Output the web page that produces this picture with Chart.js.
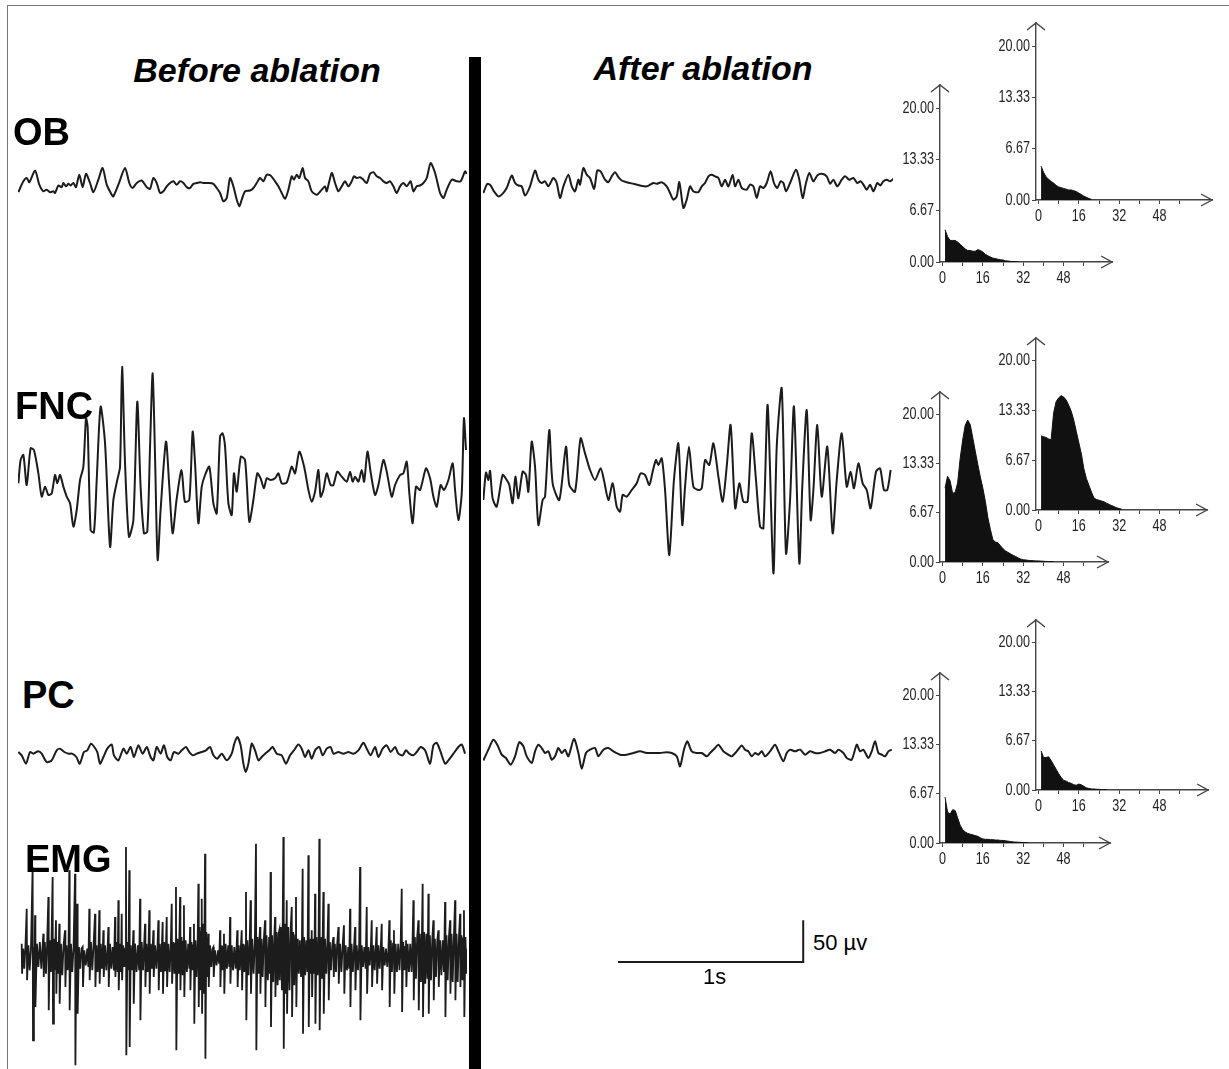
<!DOCTYPE html>
<html>
<head>
<meta charset="utf-8">
<script src="https://cdn.jsdelivr.net/npm/chart.js@4.4.1/dist/chart.umd.min.js"></script>
<style>
  body { margin: 0; background: #fff; }
  #page { position: relative; width: 1229px; height: 1069px; overflow: hidden; background: #fff;
          font-family: 'Liberation Sans', Arial, sans-serif; }
  #frame { position: absolute; left: 7px; top: 5px; width: 1230px; height: 1070px;
           border-left: 1px solid #777; border-top: 1px solid #777; }
  #divider { position: absolute; left: 469px; top: 57px; width: 12px; height: 1012px; background: #000; }
  .lbl { position: absolute; font-weight: bold; color: #000; line-height: 1; white-space: nowrap; font-size: 38px; }
  .head { font-style: italic; font-size: 34px; transform: translateX(-50%); }
  .note { position: absolute; color: #000; line-height: 1; font-size: 22px; white-space: nowrap; }
  canvas { position: absolute; }
</style>
</head>
<body>
<div id="page">
  <div id="frame"></div>
  <div id="divider"></div>
</div>
<script>
// time in ms, amplitude in µV
const obBefore = [[2,-11],[29,2],[47,6],[61,1],[92,15],[115,-2],[137,-10],[155,-8],[173,-11],[191,-10],[200,-12],[218,-3],[236,-5],[245,0],[259,-4],[272,-1],[284,-3],[299,0],[313,-5],[331,10],[349,-5],[367,11],[389,0],[407,-11],[434,4],[457,18],[479,-2],[506,-14],[515,-16],[542,-2],[578,18],[601,0],[619,-6],[641,0],[668,3],[695,-5],[713,-7],[731,6],[749,0],[767,-12],[785,-10],[803,-4],[821,0],[839,2],[857,-2],[875,2],[893,0],[911,-5],[929,-6],[947,-1],[965,0],[983,1],[1001,0],[1028,0],[1055,-1],[1073,-6],[1091,-12],[1109,-22],[1127,-18],[1145,6],[1163,-4],[1181,-20],[1195,-28],[1208,-20],[1226,-10],[1253,-9],[1271,-6],[1289,0],[1307,6],[1325,2],[1343,10],[1364,9],[1388,2],[1406,-4],[1424,-12],[1442,-19],[1460,-8],[1478,8],[1490,4],[1505,10],[1519,6],[1537,18],[1550,6],[1568,2],[1586,-10],[1613,-14],[1640,-8],[1658,-4],[1667,-10],[1694,12],[1712,0],[1730,-10],[1748,-4],[1766,2],[1784,-4],[1802,2],[1814,8],[1829,6],[1847,7],[1865,4],[1883,0],[1901,11],[1919,13],[1937,8],[1955,6],[1973,2],[1991,0],[2009,2],[2027,-4],[2045,-12],[2063,-4],[2081,0],[2099,-4],[2120,2],[2135,-10],[2153,-4],[2171,-3],[2189,0],[2207,6],[2228,24],[2252,12],[2279,-12],[2297,-18],[2315,-8],[2342,4],[2369,2],[2390,2],[2414,14],[2423,11]];

const obAfter = [[2,-12],[23,-1],[41,-3],[59,-10],[83,-16],[101,-14],[128,-6],[155,9],[173,0],[191,-3],[209,-4],[227,-15],[254,-4],[281,15],[299,4],[317,0],[335,2],[353,-4],[380,6],[398,0],[416,-18],[434,-4],[461,10],[479,-4],[497,-10],[515,4],[524,-2],[542,18],[560,10],[578,6],[600,-7],[617,15],[635,14],[659,4],[677,1],[695,8],[713,13],[731,7],[749,3],[776,1],[812,-1],[848,-3],[884,-4],[920,0],[938,-1],[965,1],[992,-4],[1010,-12],[1028,-20],[1046,-16],[1060,1],[1082,-30],[1100,-20],[1118,-4],[1136,-10],[1163,-11],[1181,-4],[1199,0],[1217,8],[1235,10],[1253,8],[1271,6],[1289,-4],[1307,4],[1325,-4],[1348,10],[1361,-4],[1379,4],[1397,-6],[1424,-8],[1442,-2],[1460,-4],[1478,-18],[1496,-4],[1514,-6],[1532,0],[1553,14],[1571,0],[1589,-6],[1607,2],[1622,0],[1636,-10],[1658,0],[1690,16],[1708,4],[1726,-18],[1744,0],[1762,12],[1784,2],[1805,9],[1829,11],[1856,8],[1874,-1],[1892,4],[1913,-4],[1937,4],[1955,8],[1978,4],[2000,6],[2021,0],[2039,2],[2054,-2],[2072,-8],[2090,-2],[2108,-10],[2129,0],[2145,-3],[2162,2],[2180,4],[2198,2],[2216,5]];

const fncBefore = [[2,-4],[14,24],[29,30],[47,-6],[68,38],[86,36],[110,8],[128,-20],[146,-8],[164,-18],[182,-16],[200,6],[212,-4],[227,6],[245,-8],[263,-20],[281,-28],[299,-56],[317,-36],[335,0],[353,16],[367,74],[376,64],[392,-60],[410,-63],[425,0],[446,88],[470,44],[497,-80],[515,-24],[536,0],[551,16],[562,136],[578,20],[599,-68],[623,-48],[644,94],[662,-8],[680,-64],[698,-62],[713,40],[727,128],[740,28],[754,-96],[770,-36],[799,46],[817,-8],[835,-64],[856,-24],[883,12],[901,-26],[925,-24],[943,58],[956,20],[974,-52],[992,-8],[1010,6],[1033,16],[1055,-28],[1073,-40],[1091,52],[1105,56],[1118,40],[1136,-28],[1154,-42],[1166,8],[1181,-14],[1203,28],[1226,24],[1249,-50],[1271,-24],[1292,8],[1310,2],[1328,-10],[1343,2],[1364,0],[1388,2],[1406,8],[1424,-4],[1451,-3],[1478,16],[1496,8],[1519,34],[1545,16],[1568,-12],[1586,-26],[1604,-14],[1622,12],[1634,-20],[1649,-12],[1667,8],[1688,-6],[1703,-6],[1724,10],[1748,4],[1775,-2],[1793,10],[1807,-2],[1820,4],[1838,-2],[1856,12],[1869,-2],[1887,34],[1905,8],[1928,-18],[1946,-6],[1973,24],[1991,10],[2018,-20],[2036,-6],[2063,6],[2081,8],[2099,22],[2113,-16],[2131,-52],[2149,-8],[2171,-12],[2203,14],[2225,2],[2243,-20],[2261,-32],[2282,-6],[2300,-12],[2324,0],[2347,20],[2360,-12],[2378,-48],[2396,-16],[2408,74],[2419,36]];

const fncAfter = [[2,-24],[16,9],[29,0],[38,11],[52,-22],[74,-32],[106,6],[128,0],[142,-6],[160,-28],[175,4],[191,-22],[214,10],[232,6],[245,-14],[263,46],[281,16],[299,-54],[322,-24],[335,-20],[358,60],[376,-4],[412,-24],[448,40],[466,-6],[497,-14],[527,50],[551,32],[578,12],[605,0],[635,14],[653,0],[677,-24],[700,-4],[722,-32],[740,-38],[754,-18],[776,-20],[803,-12],[830,-4],[851,8],[875,6],[898,-6],[916,10],[934,24],[947,18],[965,26],[983,-12],[1006,-90],[1031,0],[1055,44],[1076,-54],[1091,-8],[1112,40],[1136,-8],[1163,-12],[1181,-10],[1199,24],[1222,18],[1244,44],[1271,4],[1294,-26],[1316,16],[1337,66],[1362,-34],[1384,-4],[1406,-26],[1429,-26],[1451,56],[1474,0],[1496,-56],[1514,-58],[1537,90],[1568,-112],[1586,40],[1613,110],[1636,-88],[1658,-24],[1679,88],[1708,-100],[1724,-8],[1748,84],[1769,-48],[1784,-12],[1805,66],[1829,-20],[1859,40],[1888,-64],[1910,0],[1937,56],[1964,-8],[1985,10],[2003,-10],[2027,20],[2050,-4],[2072,-12],[2093,-34],[2122,10],[2144,14],[2165,-12],[2183,-12],[2201,12]];

const pcBefore = [[2,0],[20,-4],[43,-14],[65,0],[83,-2],[110,1],[128,-2],[155,-12],[182,-10],[209,2],[227,4],[250,0],[274,-2],[292,-2],[315,-6],[333,-14],[356,0],[374,2],[394,10],[412,6],[428,0],[443,-14],[461,-6],[482,4],[506,9],[518,-4],[542,-10],[569,4],[587,-2],[608,6],[626,-6],[650,8],[673,-2],[695,6],[716,-6],[731,-10],[749,6],[770,-2],[788,8],[806,-6],[824,-10],[842,0],[866,-2],[884,2],[907,6],[925,0],[943,-4],[965,-2],[992,0],[1015,2],[1037,6],[1055,-4],[1076,-8],[1100,-2],[1127,-10],[1154,-2],[1168,10],[1184,18],[1202,8],[1217,-14],[1229,-24],[1244,-14],[1262,10],[1280,2],[1298,-10],[1316,-6],[1334,-2],[1357,2],[1375,6],[1397,-2],[1424,-4],[1447,-14],[1469,-4],[1490,2],[1514,9],[1532,4],[1550,-6],[1568,2],[1586,-8],[1604,2],[1627,6],[1645,-4],[1667,4],[1688,6],[1703,-2],[1730,0],[1757,-2],[1784,0],[1811,-2],[1838,2],[1865,11],[1883,4],[1904,-4],[1928,6],[1946,-6],[1969,4],[1991,8],[2012,0],[2036,6],[2054,-2],[2077,-4],[2095,2],[2113,-2],[2135,-4],[2153,0],[2174,6],[2198,2],[2225,-14],[2243,8],[2261,11],[2279,2],[2306,-14],[2324,-10],[2351,-2],[2378,6],[2396,9],[2414,-2]];

const pcAfter = [[2,-9],[29,4],[56,16],[77,10],[101,-2],[124,-6],[149,-14],[173,-4],[196,13],[218,8],[236,-4],[263,-12],[281,2],[299,10],[317,6],[335,0],[353,2],[371,-8],[389,-4],[407,6],[425,0],[443,4],[461,-4],[491,17],[515,0],[533,-19],[556,0],[578,4],[605,6],[623,-4],[650,4],[677,6],[704,2],[740,-2],[776,-2],[812,0],[848,2],[884,0],[920,0],[956,0],[992,1],[1019,0],[1046,-4],[1064,-16],[1085,4],[1103,14],[1127,2],[1154,0],[1181,0],[1208,-4],[1226,0],[1253,6],[1271,10],[1298,2],[1325,-2],[1343,-4],[1370,2],[1397,9],[1415,4],[1433,2],[1451,-4],[1469,0],[1487,-2],[1505,2],[1523,-4],[1550,2],[1577,10],[1595,2],[1622,-10],[1640,0],[1658,4],[1685,2],[1712,4],[1739,-2],[1766,2],[1793,0],[1820,0],[1847,2],[1874,4],[1901,0],[1919,4],[1946,0],[1964,-6],[1991,-8],[2018,10],[2036,2],[2054,4],[2081,-6],[2099,2],[2117,14],[2135,0],[2153,-2],[2171,-4],[2189,2],[2207,4]];

const emgBefore = [[20,16],[22,-20],[28,10],[34,-14],[40,12],[47,58],[49,-28],[56,14],[63,-16],[70,10],[79,108],[81,-100],[86,12],[90,-10],[92,50],[94,-60],[102,16],[110,-12],[118,18],[126,-14],[132,10],[137,28],[139,-24],[145,18],[151,-20],[157,14],[164,72],[166,-64],[172,20],[178,-18],[187,96],[189,-80],[194,22],[199,-16],[205,44],[207,-44],[212,18],[217,-20],[223,40],[225,-56],[232,16],[239,-22],[246,14],[254,32],[256,-36],[262,14],[268,-16],[273,12],[277,104],[279,-64],[286,16],[293,-18],[300,12],[308,100],[310,-130],[315,14],[320,64],[322,-68],[329,12],[336,-14],[343,10],[349,12],[351,-36],[358,8],[366,-10],[374,10],[380,-12],[385,58],[387,-28],[394,18],[401,-16],[408,14],[416,52],[418,-36],[424,14],[430,-18],[435,12],[439,56],[441,-32],[447,16],[453,-14],[458,10],[461,32],[463,-24],[470,14],[477,-16],[484,12],[488,36],[490,-36],[497,16],[504,-14],[511,12],[518,-16],[524,48],[526,-24],[532,18],[538,-18],[542,68],[544,-40],[550,16],[556,-18],[560,52],[562,-28],[568,14],[574,-12],[579,10],[583,132],[585,-118],[591,18],[596,-16],[601,104],[603,-108],[609,14],[615,-16],[620,12],[623,32],[625,-56],[632,16],[640,-18],[647,14],[654,-16],[659,70],[661,-76],[668,18],[675,-16],[681,14],[686,40],[688,-36],[694,16],[700,-18],[705,14],[709,56],[711,-44],[717,16],[723,-14],[727,10],[731,32],[733,-24],[740,14],[747,-14],[753,12],[758,44],[760,-40],[766,16],[772,-18],[777,14],[781,42],[783,-44],[789,18],[795,-16],[799,14],[803,48],[805,-36],[812,16],[819,-18],[825,14],[830,64],[832,-32],[839,18],[845,-20],[849,16],[853,84],[855,-112],[861,22],[867,-20],[871,16],[875,72],[877,-40],[883,24],[889,-22],[893,18],[896,62],[898,-48],[905,20],[912,-18],[919,16],[925,-14],[929,36],[931,-40],[937,18],[943,-16],[947,14],[950,40],[952,-80],[958,20],[964,-24],[970,18],[974,88],[976,-60],[981,36],[986,-40],[989,30],[992,70],[994,-68],[999,40],[1004,-44],[1007,36],[1010,124],[1012,-122],[1017,30],[1022,-24],[1028,28],[1030,-36],[1037,14],[1044,-12],[1050,10],[1055,12],[1057,-24],[1064,8],[1072,-10],[1080,8],[1086,-8],[1091,32],[1093,-36],[1099,14],[1105,-16],[1109,12],[1112,28],[1114,-44],[1121,16],[1128,-14],[1135,14],[1141,-12],[1145,48],[1147,-32],[1154,14],[1161,-16],[1168,12],[1175,-14],[1180,10],[1184,32],[1186,-36],[1192,14],[1198,-16],[1204,14],[1208,32],[1210,-40],[1216,16],[1222,-18],[1227,14],[1231,78],[1233,-76],[1239,20],[1245,-22],[1251,18],[1256,68],[1258,-44],[1265,22],[1272,-20],[1279,18],[1285,136],[1287,-112],[1293,24],[1299,-20],[1303,18],[1307,36],[1309,-44],[1315,22],[1321,-24],[1327,20],[1334,44],[1336,-60],[1342,26],[1349,-28],[1356,24],[1360,-20],[1364,102],[1366,-84],[1372,26],[1378,-30],[1384,24],[1388,48],[1390,-48],[1396,30],[1402,-34],[1407,28],[1411,32],[1413,-28],[1419,36],[1425,-40],[1429,30],[1433,144],[1435,-110],[1440,40],[1446,-44],[1451,68],[1453,-68],[1459,36],[1466,-40],[1472,32],[1478,60],[1480,-72],[1486,30],[1492,-34],[1497,26],[1501,72],[1503,-60],[1508,22],[1511,-18],[1514,12],[1516,-20],[1522,20],[1528,-24],[1533,18],[1537,106],[1539,-92],[1545,24],[1551,-22],[1557,20],[1563,-18],[1568,122],[1570,-84],[1576,22],[1582,-20],[1586,32],[1588,-48],[1594,22],[1600,-20],[1604,76],[1606,-80],[1612,24],[1618,-22],[1623,18],[1627,142],[1629,-88],[1635,24],[1641,-26],[1645,20],[1649,78],[1651,-68],[1658,22],[1665,-20],[1671,18],[1676,64],[1678,-52],[1684,18],[1690,-16],[1697,14],[1703,24],[1705,-24],[1711,16],[1717,-18],[1723,14],[1730,36],[1732,-32],[1739,16],[1746,-18],[1753,14],[1760,38],[1762,-44],[1769,14],[1776,-16],[1783,12],[1788,-14],[1793,58],[1795,-60],[1801,16],[1808,-18],[1815,14],[1820,36],[1822,-40],[1829,14],[1836,-16],[1842,12],[1847,108],[1849,-76],[1856,14],[1863,-12],[1870,12],[1877,-14],[1883,60],[1885,-44],[1892,12],[1899,-10],[1905,10],[1910,44],[1912,-36],[1919,14],[1926,-16],[1932,12],[1937,36],[1939,-32],[1946,14],[1953,-14],[1959,12],[1964,40],[1966,-40],[1973,12],[1980,-10],[1987,10],[1994,-12],[2000,8],[2005,44],[2007,-60],[2013,20],[2019,-18],[2025,16],[2030,32],[2032,-44],[2039,16],[2046,-18],[2053,16],[2060,-16],[2066,14],[2072,82],[2074,-66],[2080,18],[2086,-16],[2091,12],[2095,20],[2097,-36],[2104,16],[2111,-18],[2118,16],[2125,-18],[2130,14],[2135,68],[2137,-52],[2143,24],[2149,-26],[2155,22],[2162,44],[2164,-64],[2170,28],[2176,-30],[2181,26],[2185,88],[2187,-72],[2193,30],[2199,-32],[2205,28],[2211,-26],[2216,76],[2218,-68],[2224,26],[2230,-28],[2237,22],[2243,44],[2245,-52],[2251,22],[2257,-24],[2264,20],[2270,32],[2272,-36],[2279,20],[2286,-22],[2293,20],[2300,-18],[2306,66],[2308,-72],[2314,26],[2320,-28],[2327,24],[2333,44],[2335,-44],[2341,28],[2347,-30],[2354,26],[2360,68],[2362,-52],[2368,28],[2374,-30],[2381,24],[2387,52],[2389,-36],[2395,26],[2400,-28],[2404,22],[2408,56],[2410,-72],[2416,24],[2421,-20],[2425,10]];

// calibration bar: 1 s by 50 µV
const scaleBarTime = [0, 1000, 1000];
const scaleBarAmp = [0, 0, 50];

// histograms (bins 1, 2, 3 ...), counts
const obHistLeft = [4.2, 3.3, 2.8, 2.8, 2.8, 2.6, 2.3, 2.0, 1.7, 1.5, 1.5, 1.4, 1.4, 1.6, 1.5, 1.3, 1.0, 0.8, 0.65, 0.5, 0.45, 0.35, 0.3, 0.25, 0.15, 0.12, 0.08, 0.05, 0.03, 0.02];
const obHistRight = [4.4, 3.6, 3.0, 2.7, 2.4, 2.2, 1.9, 1.7, 1.6, 1.5, 1.4, 1.3, 1.3, 1.2, 1.1, 0.9, 0.7, 0.5, 0.35, 0.2, 0.08];
const fncHistLeft = [10.0, 11.6, 11.0, 9.3, 9.4, 10.7, 14.0, 16.5, 18.5, 19.2, 18.6, 16.8, 15.0, 13.2, 11.5, 10.0, 8.2, 6.0, 4.4, 3.0, 2.7, 2.6, 2.2, 1.8, 1.5, 1.3, 1.1, 0.9, 0.75, 0.55, 0.4, 0.3, 0.28, 0.22, 0.2, 0.18, 0.15, 0.15, 0.12, 0.1, 0.08, 0.06, 0.05, 0.03];
const fncHistRight = [9.9, 9.8, 9.7, 9.5, 9.4, 13.0, 14.5, 15.0, 15.3, 15.1, 14.7, 14.0, 13.2, 12.0, 10.5, 9.0, 7.5, 5.5, 4.2, 3.3, 2.4, 1.6, 1.4, 1.3, 1.2, 1.1, 0.9, 0.75, 0.6, 0.45, 0.3, 0.2, 0.1];
const pcHistLeft = [6.2, 4.2, 3.9, 4.5, 4.4, 3.4, 2.4, 1.8, 1.5, 1.3, 1.2, 1.1, 1.0, 0.9, 0.7, 0.55, 0.5, 0.5, 0.45, 0.45, 0.4, 0.4, 0.35, 0.35, 0.3, 0.25, 0.2, 0.15, 0.12, 0.1, 0.08, 0.06, 0.04, 0.02];
const pcHistRight = [5.3, 4.4, 4.4, 4.5, 4.0, 3.4, 2.8, 2.2, 1.7, 1.3, 1.2, 1.0, 0.9, 0.7, 0.65, 0.8, 0.7, 0.5, 0.3, 0.2, 0.15, 0.13, 0.1, 0.08, 0.06, 0.04, 0.02];
const histYTicks = [0, 6.67, 13.33, 20];
const histXTicks = [0, 16, 32, 48];

const PX_PER_MS = 0.1852;
const PX_PER_UV = 0.833;
const PX_PER_BIN = 2.52;
const INK = '#1c1c1c';
const page = document.getElementById('page');

function addCanvas(left, top, w, h) {
  const c = document.createElement('canvas');
  c.width = w; c.height = h;
  c.style.left = left + 'px'; c.style.top = top + 'px';
  c.style.width = w + 'px'; c.style.height = h + 'px';
  page.appendChild(c);
  return c;
}

// trace drawn on hidden linear scales; (ox, oy) is where t=0, v=0 sits inside the canvas
function traceChart(points, left, top, w, h, ox, oy, opt) {
  opt = opt || {};
  const canvas = addCanvas(left, top, w, h);
  new Chart(canvas, {
    type: 'line',
    data: { datasets: [{
      data: points.map(p => ({ x: p[0], y: p[1] })),
      borderColor: INK, borderWidth: opt.width || 2, pointRadius: 0,
      tension: opt.tension === undefined ? 0.25 : opt.tension, fill: false
    }] },
    options: {
      responsive: false, animation: false, events: [],
      layout: { padding: 0 },
      plugins: { legend: { display: false }, tooltip: { enabled: false } },
      scales: {
        x: { type: 'linear', display: false, min: -ox / PX_PER_MS, max: (w - ox) / PX_PER_MS },
        y: { display: false, min: -(h - oy) / PX_PER_UV, max: oy / PX_PER_UV }
      }
    }
  });
}

function trace(points, left, baseY, w, h, opt) {
  traceChart(points, left, baseY - h / 2, w, h, 0, h / 2, opt);
}

// open arrow heads at the axis ends, and narrow tick labels
const histDecor = {
  id: 'histDecor',
  afterDraw(chart) {
    const { ctx, chartArea: a, scales } = chart;
    ctx.save();
    ctx.strokeStyle = '#444';
    ctx.lineWidth = 1.4;
    ctx.beginPath();
    ctx.moveTo(a.left - 9, a.top + 7); ctx.lineTo(a.left, a.top); ctx.lineTo(a.left + 9, a.top + 7);
    ctx.moveTo(a.right - 11, a.bottom - 6); ctx.lineTo(a.right, a.bottom); ctx.lineTo(a.right - 11, a.bottom + 6);
    ctx.stroke();

    ctx.fillStyle = '#222';
    ctx.font = '17px "Liberation Sans", Arial, sans-serif';
    ctx.textBaseline = 'middle';
    const sx = 0.74;
    histYTicks.forEach(v => {
      const y = scales.y.getPixelForValue(v);
      ctx.save();
      ctx.translate(a.left - 6, y);
      ctx.scale(sx, 1);
      ctx.textAlign = 'right';
      ctx.fillText(v.toFixed(2), 0, 0);
      ctx.restore();
    });
    ctx.textBaseline = 'top';
    histXTicks.forEach(v => {
      const x = scales.x.getPixelForValue(v);
      ctx.save();
      ctx.translate(x, a.bottom + 8);
      ctx.scale(sx, 1);
      ctx.textAlign = 'center';
      ctx.fillText(String(v), 0, 0);
      ctx.restore();
    });
    ctx.restore();
  }
};

function histChart(values, axisX, zeroY, topY, rightX) {
  const YW = 46, XH = 26, PT = 8, PR = 12;
  const w = rightX - axisX + YW + PR;
  const h = zeroY - topY + PT + XH;
  const canvas = addCanvas(axisX - YW, topY - PT, w, h);
  new Chart(canvas, {
    type: 'line',
    data: { datasets: [{
      data: values.map((v, i) => ({ x: i + 1, y: v })),
      borderColor: '#111', backgroundColor: '#111', borderWidth: 1,
      pointRadius: 0, tension: 0, fill: 'origin'
    }] },
    options: {
      responsive: false, animation: false, events: [],
      layout: { padding: { top: PT, right: PR, left: 0, bottom: 0 } },
      plugins: { legend: { display: false }, tooltip: { enabled: false } },
      scales: {
        x: {
          type: 'linear', min: -1, max: -1 + (rightX - axisX) / PX_PER_BIN,
          afterBuildTicks: s => { s.ticks = [0, 8, 16, 24, 32, 40, 48, 56].map(v => ({ value: v })); },
          afterFit: s => { s.height = XH; },
          border: { color: '#444', width: 1.4 },
          grid: { drawOnChartArea: false, drawTicks: true, tickLength: 4, color: '#444' },
          ticks: { display: false }
        },
        y: {
          min: 0, max: 23,
          afterBuildTicks: s => { s.ticks = histYTicks.map(v => ({ value: v })); },
          afterFit: s => { s.width = YW; },
          border: { color: '#444', width: 1.4 },
          grid: { drawOnChartArea: false, drawTicks: true, tickLength: 4, color: '#444' },
          ticks: { display: false }
        }
      }
    },
    plugins: [histDecor]
  });
}

// traces, before (left column) and after (right column)
trace(obBefore, 18, 183, 449, 80);
trace(obAfter, 483, 183, 410, 80);
trace(fncBefore, 18, 480, 449, 250);
trace(fncAfter, 483, 480, 410, 250);
trace(pcBefore, 18, 752, 449, 60);
trace(pcAfter, 483, 753, 410, 60);
trace(emgBefore, 18, 957, 449, 260, { tension: 0, width: 1.8 });

// calibration bar
traceChart(scaleBarTime.map((t, i) => [t, scaleBarAmp[i]]), 612, 912, 200, 56, 6, 50, { tension: 0, width: 2 });

// histograms
histChart(obHistLeft, 940, 262, 85, 1112);
histChart(obHistRight, 1036, 200, 23, 1212);
histChart(fncHistLeft, 940, 562, 392, 1108);
histChart(fncHistRight, 1036, 510, 338, 1207);
histChart(pcHistLeft, 940, 843, 673, 1110);
histChart(pcHistRight, 1036, 790, 620, 1208);

// text
function label(text, cls, left, top) {
  const d = document.createElement('div');
  d.className = cls;
  d.textContent = text;
  d.style.left = left + 'px';
  d.style.top = top + 'px';
  page.appendChild(d);
}
label('Before ablation', 'lbl head', 257, 53);
label('After ablation', 'lbl head', 703, 51);
label('OB', 'lbl', 13, 113);
label('FNC', 'lbl', 15, 387);
label('PC', 'lbl', 22, 676);
label('EMG', 'lbl', 25, 840);
label('50 µv', 'note', 813, 932);
label('1s', 'note', 703, 966);
</script>
</body>
</html>
